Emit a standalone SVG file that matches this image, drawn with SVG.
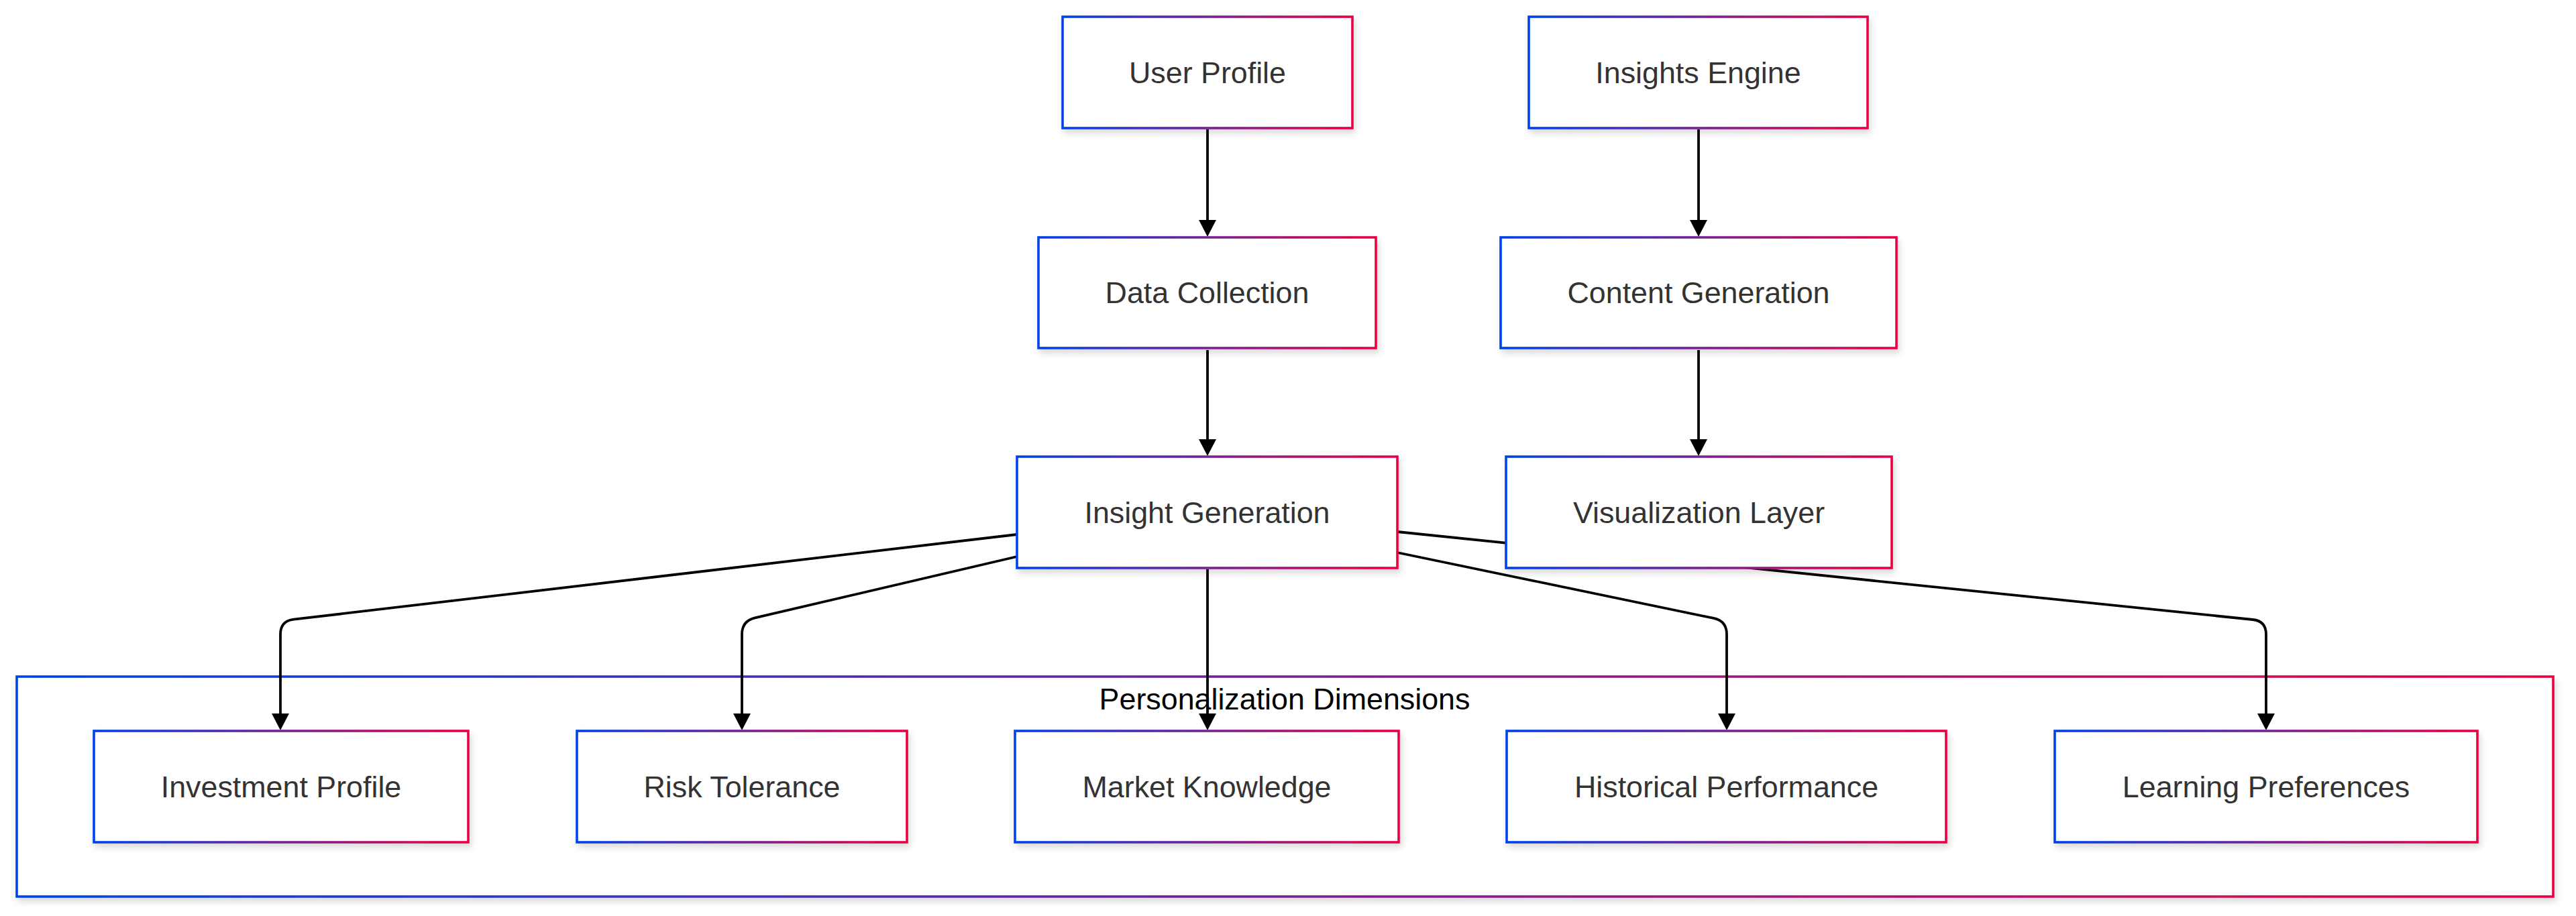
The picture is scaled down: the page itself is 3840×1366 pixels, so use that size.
<svg xmlns="http://www.w3.org/2000/svg" width="3840" height="1366" viewBox="0 0 3840 1366">
<defs>
<linearGradient id="grad" x1="0" y1="0" x2="1" y2="0">
<stop offset="0" stop-color="#0042eb"/>
<stop offset="1" stop-color="#eb0042"/>
</linearGradient>
<filter id="shadow" x="-10%" y="-20%" width="130%" height="150%">
<feDropShadow dx="3" dy="6" stdDeviation="5" flood-color="#000000" flood-opacity="0.14"/>
</filter>
<marker id="arrow" viewBox="0 0 25 26" refX="15" refY="13" markerWidth="25" markerHeight="26" markerUnits="userSpaceOnUse" orient="auto">
<path d="M0,0 L25,13 L0,26 z" fill="#000000"/>
</marker>
<style>
.node rect{fill:#ffffff;stroke:url(#grad);stroke-width:3.6;filter:url(#shadow);}
.node text{font-family:"Liberation Sans",Arial,sans-serif;font-size:44.8px;fill:#333333;text-anchor:middle;}
.cluster rect{fill:#ffffff;stroke:url(#grad);stroke-width:3.6;filter:url(#shadow);}
.cluster text{font-family:"Liberation Sans",Arial,sans-serif;font-size:44.8px;fill:#000000;text-anchor:middle;}
.edges path{fill:none;stroke:#000000;stroke-width:3.8;marker-end:url(#arrow);}
</style>
</defs>
<rect x="0" y="0" width="3840" height="1366" fill="#ffffff"/>
<g id="cluster-personalization" class="cluster">
<rect x="25" y="1009" width="3781" height="328"/>
<text x="1915" y="1058">Personalization Dimensions</text>
</g>
<g id="edges" class="edges">
<path d="M1800,193 L1800,343"/>
<path d="M1800,522 L1800,670"/>
<path d="M2532,193 L2532,343"/>
<path d="M2532,522 L2532,670"/>
<path d="M1800,849 L1800,1079"/>
<path d="M1516,797 L437.9,923.7 Q418,926 418,946 L418,1079"/>
<path d="M1516,830 L1125.5,921.4 Q1106,926 1106,946 L1106,1079"/>
<path d="M2083,824 L2554.4,921.9 Q2574,926 2574,946 L2574,1079"/>
<path d="M2083,793 L3358.1,924 Q3378,926 3378,946 L3378,1079"/>
</g>
<g id="node-user-profile" class="node">
<rect x="1584" y="25" width="432" height="166"/>
<text x="1800" y="124">User Profile</text>
</g>
<g id="node-insights-engine" class="node">
<rect x="2279" y="25" width="505" height="166"/>
<text x="2531.5" y="124">Insights Engine</text>
</g>
<g id="node-data-collection" class="node">
<rect x="1548" y="354" width="503" height="165"/>
<text x="1799.5" y="452">Data Collection</text>
</g>
<g id="node-content-generation" class="node">
<rect x="2237" y="354" width="590" height="165"/>
<text x="2532" y="452">Content Generation</text>
</g>
<g id="node-insight-generation" class="node">
<rect x="1516" y="681" width="567" height="166"/>
<text x="1799.5" y="780">Insight Generation</text>
</g>
<g id="node-visualization-layer" class="node">
<rect x="2245" y="681" width="575" height="166"/>
<text x="2532.5" y="780">Visualization Layer</text>
</g>
<g id="node-investment-profile" class="node">
<rect x="140" y="1090" width="558" height="166"/>
<text x="419" y="1189">Investment Profile</text>
</g>
<g id="node-risk-tolerance" class="node">
<rect x="860" y="1090" width="492" height="166"/>
<text x="1106" y="1189">Risk Tolerance</text>
</g>
<g id="node-market-knowledge" class="node">
<rect x="1513" y="1090" width="572" height="166"/>
<text x="1799" y="1189">Market Knowledge</text>
</g>
<g id="node-historical-performance" class="node">
<rect x="2246" y="1090" width="655" height="166"/>
<text x="2573.5" y="1189">Historical Performance</text>
</g>
<g id="node-learning-preferences" class="node">
<rect x="3063" y="1090" width="630" height="166"/>
<text x="3378" y="1189">Learning Preferences</text>
</g>
</svg>
